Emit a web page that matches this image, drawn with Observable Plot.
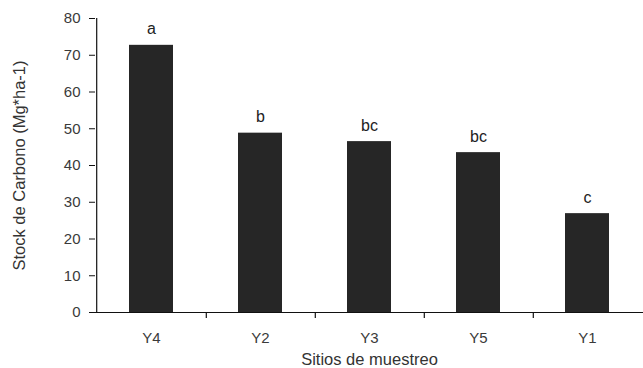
<!DOCTYPE html>
<html>
<head>
<meta charset="utf-8">
<script src="https://cdn.jsdelivr.net/npm/d3@7"></script>
<script src="https://cdn.jsdelivr.net/npm/@observablehq/plot@0.6"></script>
<style>
  html, body { margin: 0; padding: 0; background: #fff; }
  #chart svg { display: block; }
</style>
</head>
<body>
<div id="chart"></div>
<script>
const sites = ["Y4", "Y2", "Y3", "Y5", "Y1"];
const stock = [72.7, 48.8, 46.5, 43.5, 26.9];
const letters = ["a", "b", "bc", "bc", "c"];
const yTicks = [0, 10, 20, 30, 40, 50, 60, 70, 80];
const xTitle = "Sitios de muestreo";
const yTitle = "Stock de Carbono (Mg*ha-1)";

const data = sites.map((s, i) => ({site: s, value: stock[i], letter: letters[i]}));

const W = 643, H = 368;
const mL = 95, mR = 0, mT = 18, mB = 56;
const step = (W - mL - mR) / sites.length;
const font = "'Liberation Sans', Arial, sans-serif";

const chart = Plot.plot({
  width: W,
  height: H,
  marginLeft: mL,
  marginRight: mR,
  marginTop: mT,
  marginBottom: mB,
  style: {fontFamily: font, background: "#fff", color: "#333"},
  x: {type: "band", domain: sites, paddingInner: 0.6, paddingOuter: 0.3, axis: null},
  y: {domain: [0, 80], axis: null},
  marks: [
    Plot.barY(data, {x: "site", y: "value", fill: "#262626"}),
    Plot.ruleY([0], {stroke: "#111", strokeWidth: 1.2}),
    Plot.ruleX([sites[0]], {x: d => d, dx: -step / 2, y1: 0, y2: 80, stroke: "#111", strokeWidth: 1.2}),
    Plot.ruleX(sites.slice(0, -1), {x: d => d, dx: step / 2, y1: 0, y2: 0, insetTop: 6, stroke: "#111", strokeWidth: 1.2}),
    Plot.axisY(yTicks, {tickSize: 6, tickPadding: 9, fontSize: 15, fill: "#3a3a3a", stroke: "#111", label: null}),
    Plot.axisX({tickSize: 0, tickPadding: 20, fontSize: 15, fill: "#3a3a3a", label: null}),
    Plot.text(data, {x: "site", y: "value", text: "letter", lineAnchor: "bottom", dy: -11, fontSize: 16, fill: "#222"}),
    Plot.text([xTitle], {frameAnchor: "bottom", text: d => d, textAnchor: "middle", lineAnchor: "top", dy: 41, fontSize: 16.5, fill: "#333"}),
    Plot.text([yTitle], {frameAnchor: "left", text: d => d, textAnchor: "middle", rotate: -90, lineAnchor: "top", dx: -82, fontSize: 16.5, fill: "#333"})
  ]
});
document.getElementById("chart").appendChild(chart);
</script>
</body>
</html>
